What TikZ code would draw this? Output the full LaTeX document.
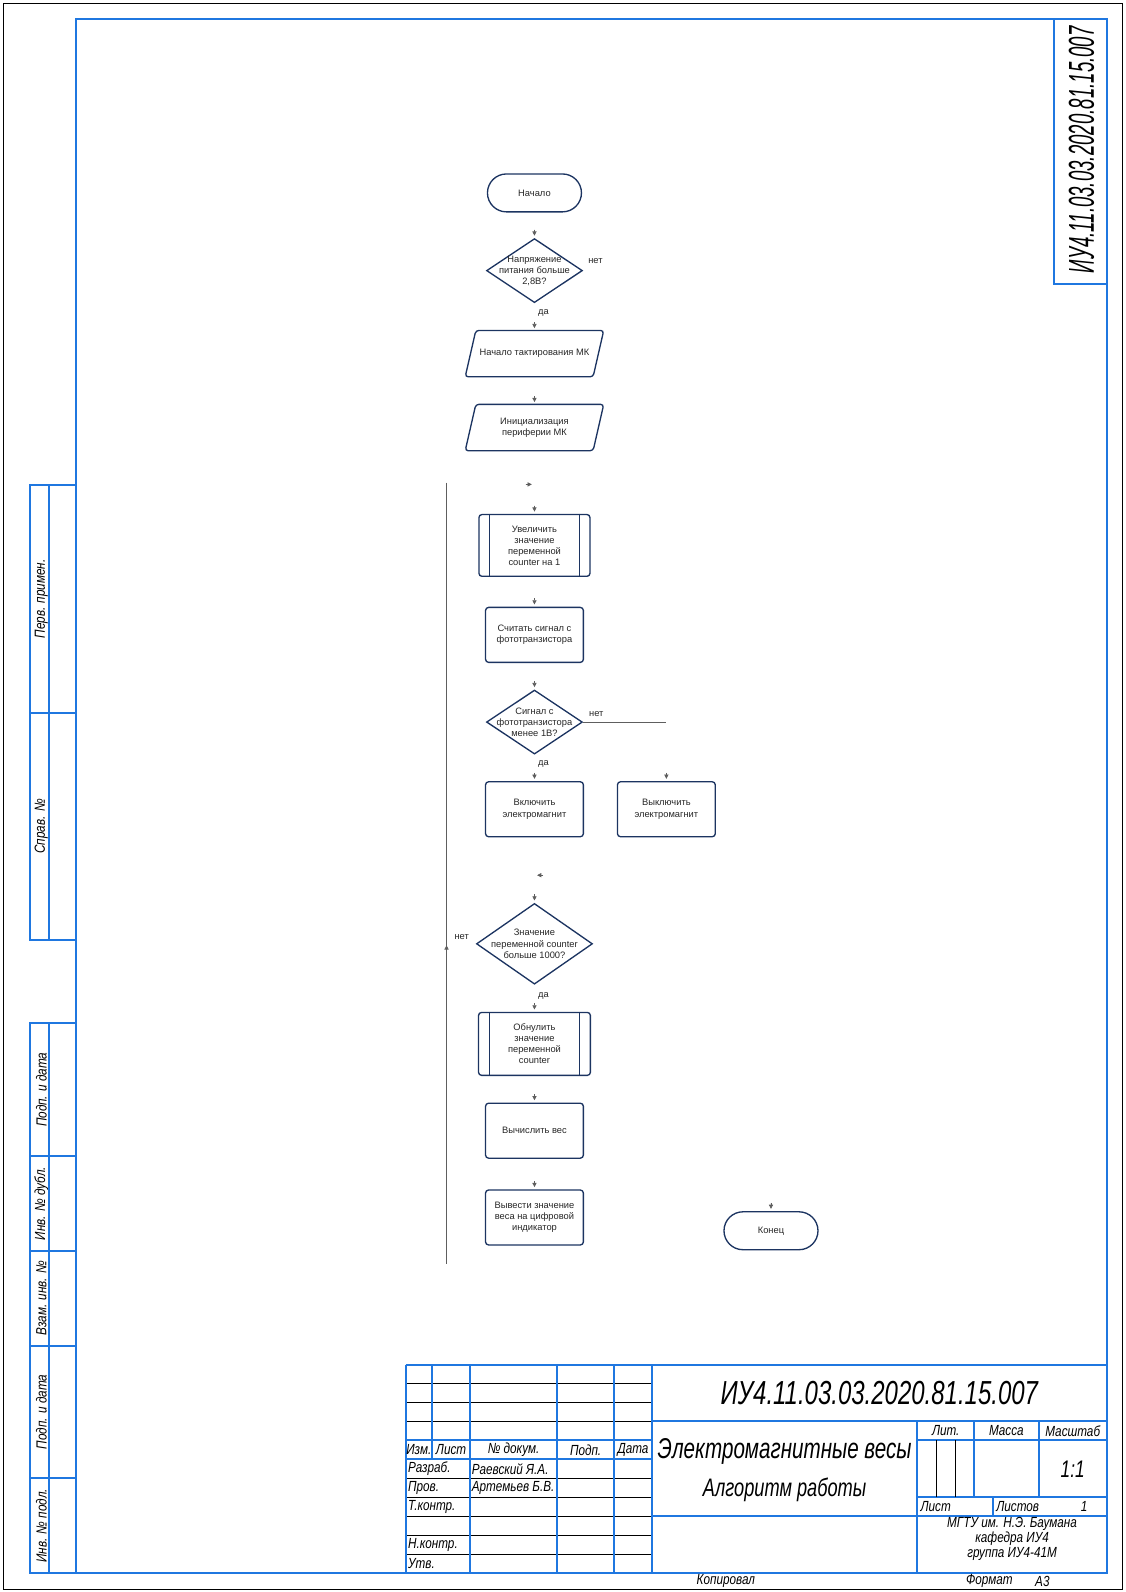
\documentclass[tikz,border=0pt]{standalone}
\usepackage{fontspec}
\setmainfont{Liberation Sans}
\newfontfamily\gost[FakeStretch=0.72]{Liberation Sans}
\newfontfamily\gostwide[FakeStretch=0.8]{Liberation Sans}
\usepackage{tikz}
\usetikzlibrary{arrows.meta,positioning,calc,shapes}

\definecolor{frameblue}{HTML}{1F77E0}
\definecolor{boxnavy}{HTML}{1C3461}
\definecolor{tipgray}{HTML}{5E5E5E}
\definecolor{fctext}{HTML}{262626}

\newcommand\fcfont{\fontsize{7}{8.3}\selectfont}
\newcommand\gostfont[1]{\gost\itshape\fontsize{#1}{#1}\selectfont}
\newcommand\gostsmall{\gostwide\itshape\fontsize{11}{11}\selectfont}

\tikzset{
  blueline/.style={draw=frameblue,line width=0.5mm},
  thinline/.style={draw=black,line width=0.25mm},
  gtext/.style={font=\gostsmall,inner sep=0pt},
  fcline/.style={draw=boxnavy,line width=1pt},
  proc/.style={fcline,rectangle,rounded corners=0.8mm,minimum width=25.8mm,minimum height=14.5mm,inner sep=0pt,align=center,font=\fcfont,text=fctext},
  subproc/.style={proc,minimum width=29.3mm,minimum height=16.3mm},
  term/.style={fcline,rectangle,rounded corners=5mm,minimum width=24.8mm,minimum height=10mm,inner sep=0pt,font=\fcfont,text=fctext},
  io/.style={rectangle,minimum width=33.6mm,minimum height=12.1mm,inner sep=0pt,align=center,font=\fcfont,text=fctext},
  cond/.style={fcline,diamond,inner sep=0pt,minimum width=25.3mm,minimum height=16.9mm},
  ctext/.style={align=center,font=\fcfont,text=fctext,inner sep=0pt},
  yesno/.style={font=\fcfont,text=fctext,inner sep=0pt},
  flowline/.style={draw=tipgray,line width=0.5pt},
  fctip/.style={draw=tipgray,fill=tipgray,line width=0.5pt,-{Triangle[length=1.1mm,width=1.1mm]}}
}

\begin{document}
\begin{tikzpicture}[x=1mm,y=1mm]
  \useasboundingbox (0,0) rectangle (297,420);
  \draw[black,line width=0.4pt] (0.8,0.8) rectangle (296.2,419.2);
  \draw[blueline] (20,5) rectangle (292,415);

  % side strips
  \foreach \ya/\yb/\txt in {232/292/{Перв. примен.},172/232/{Справ. №},115/150/{Подп. и дата},90/115/{Инв. № дубл.},65/90/{Взам. инв. №},30/65/{Подп. и дата},5/30/{Инв. № подл.}} {
    \draw[blueline] (8,\ya) rectangle (20,\yb);
    \draw[blueline] (13,\ya) -- (13,\yb);
    \node[gtext,rotate=90] at (10.9,{(\ya+\yb)/2}) {\txt};
  }

  % top stamp
  \draw[blueline] (278,345) rectangle (292,415);
  \node[inner sep=0pt,rotate=90] (stampcode) at (285.3,380.5) {\scalebox{0.72}[1]{\gostfont{27}ИУ4.11.03.03.2020.81.15.007}};

  % title block
  \foreach \y in {10,15,20,25,30,45,50,55} \draw[thinline] (107,\y) -- (172,\y);
  \draw[blueline] (107,60) -- (292,60);
  \draw[blueline] (107,35) -- (172,35);
  \draw[blueline] (107,40) -- (172,40);
  \foreach \x in {107,124,147,162,172} \draw[blueline] (\x,5) -- (\x,60);
  \draw[blueline] (114,35) -- (114,60);
  \draw[blueline] (172,45) -- (292,45);
  \draw[blueline] (172,20) -- (292,20);
  \draw[blueline] (242,5) -- (242,45);
  \draw[blueline] (242,40) -- (292,40);
  \draw[blueline] (242,25) -- (292,25);
  \draw[blueline] (257,25) -- (257,45);
  \draw[blueline] (274,25) -- (274,45);
  \draw[blueline] (262,20) -- (262,25);
  \draw[thinline] (247,25) -- (247,40);
  \draw[thinline] (252,25) -- (252,40);

  \node[gtext] (izm) at (110.5,37.5) {Изм.};
  \node[gtext] (list) at (119,37.5) {Лист};
  \node[gtext] (ndoc) at (135.5,37.5) {№ докум.};
  \node[gtext] (podp) at (154.5,37.5) {Подп.};
  \node[gtext] (data) at (167,37.5) {Дата};
  \node[gtext,anchor=west] (razrab) at (107.6,32.5) {Разраб.};
  \node[gtext,anchor=west] (prov) at (107.6,27.5) {Пров.};
  \node[gtext,anchor=west] (tkontr) at (107.6,22.5) {Т.контр.};
  \node[gtext,anchor=west] (nkontr) at (107.6,12.5) {Н.контр.};
  \node[gtext,anchor=west] (utv) at (107.6,7.5) {Утв.};
  \node[gtext,anchor=west] (author) at (124.4,32.5) {Раевский Я.А.};
  \node[gtext,anchor=west] (checker) at (124.4,27.5) {Артемьев Б.В.};

  \node[inner sep=0pt,font=\gostfont{25}] (code) at (232,52.5) {ИУ4.11.03.03.2020.81.15.007};
  \node[inner sep=0pt,font=\gostfont{21.5}] (title) at (207,37) {Электромагнитные весы};
  \node[inner sep=0pt,font=\gostfont{19}] (subtitle) at (207,27) {Алгоритм работы};

  \node[gtext] (lit) at (249.5,42.5) {Лит.};
  \node[gtext] (mass) at (265.5,42.5) {Масса};
  \node[gtext] (scale) at (283,42.5) {Масштаб};
  \node[inner sep=0pt,font=\gostfont{18}] (ratio) at (283,32.5) {1:1};
  \node[gtext,anchor=west] (sheet) at (242.8,22.5) {Лист};
  \node[gtext] (sheets) at (268.5,22.5) {Листов};
  \node[gtext] (sheetsnum) at (286,22.5) {1};
  \node[gtext] (uni) at (267,18) {МГТУ им. Н.Э. Баумана};
  \node[gtext] (dept) at (267,14) {кафедра ИУ4};
  \node[gtext] (group) at (267,10) {группа ИУ4-41М};

  \node[gtext] (copied) at (191.5,2.9) {Копировал};
  \node[gtext] (format) at (261,2.9) {Формат};
  \node[gtext] (formatval) at (275,2.9) {А3};

  % flowchart
  \node[term] (start) at (141,369.1) {Начало};
  \node[cond,label={[ctext]center:{Напряжение\\питания больше\\2,8В?}}] (supply) at (141,348.6) {};
  \node[yesno] (supplyno) at (157.1,351) {нет};
  \node[yesno] (supplyyes) at (143.4,337.5) {да};
  \node[io] (clock) at (141,326.7) {Начало тактирования МК};
  \node[io] (init) at (141,307.2) {Инициализация\\периферии МК};
  \coordinate (loopin) at (140.3,292.2);
  \node[subproc] (inc) at (141,276.1) {Увеличить\\значение\\переменной\\counter на 1};
  \node[proc] (read) at (141,252.5) {Считать сигнал с\\фототранзистора};
  \node[cond,label={[ctext]center:{Сигнал с\\фототранзистора\\менее 1В?}}] (light) at (141,229.5) {};
  \node[yesno] (lightno) at (157.3,231.6) {нет};
  \node[yesno] (lightyes) at (143.4,218.4) {да};
  \coordinate (offtop) at (175.8,229.5);
  \node[proc] (magon) at (141,206.5) {Включить\\электромагнит};
  \node[proc] (magoff) at (175.8,206.5) {Выключить\\электромагнит};
  \coordinate (loopjoin) at (141.7,189.1);
  \node[cond,minimum width=30.6mm,minimum height=21.3mm,label={[ctext]center:{Значение\\переменной counter\\больше 1000?}}] (limit) at (141,171) {};
  \node[yesno] (limitno) at (121.8,172.8) {нет};
  \node[yesno] (limityes) at (143.4,157.3) {да};
  \node[subproc,minimum width=29.5mm,minimum height=16.6mm] (reset) at (141,144.6) {Обнулить\\значение\\переменной\\counter};
  \node[proc] (weigh) at (141,121.7) {Вычислить вес};
  \node[proc] (show) at (141,98.8) {Вывести значение\\веса на цифровой\\индикатор};
  \node[term] (stop) at (203.4,95.3) {Конец};
  \coordinate (looptop) at (117.8,292.7);
  \coordinate (loopbot) at (117.8,86.4);
  \coordinate (loopup) at (117.8,170.6);

  \foreach \n in {clock,init}
    \draw[fcline,rounded corners=0.8mm] ([xshift=-1.4mm]\n.south west) -- ([xshift=1.4mm]\n.north west)
      -- ([xshift=1.4mm]\n.north east) -- ([xshift=-1.4mm]\n.south east) -- cycle;
  \foreach \n in {inc,reset} {
    \draw[fcline] ([xshift=3mm]\n.north west) -- ([xshift=3mm]\n.south west);
    \draw[fcline] ([xshift=-3mm]\n.north east) -- ([xshift=-3mm]\n.south east);
  }
  \foreach \n in {supply,clock,init,inc,read,light,magon,magoff,limit,reset,weigh,show,stop}
    \draw[fctip] ([yshift=2.2mm]\n.north) -- ([yshift=0.6mm]\n.north);
  \draw[fctip] ([xshift=-1.6mm]loopin) -- (loopin);
  \draw[fctip] ([xshift=1.6mm]loopjoin) -- (loopjoin);
  \draw[flowline] (looptop) -- (loopbot);
  \draw[fctip] ([yshift=-1.6mm]loopup) -- (loopup);
  \draw[flowline] (light.east) -- (offtop);
\end{tikzpicture}
\end{document}
